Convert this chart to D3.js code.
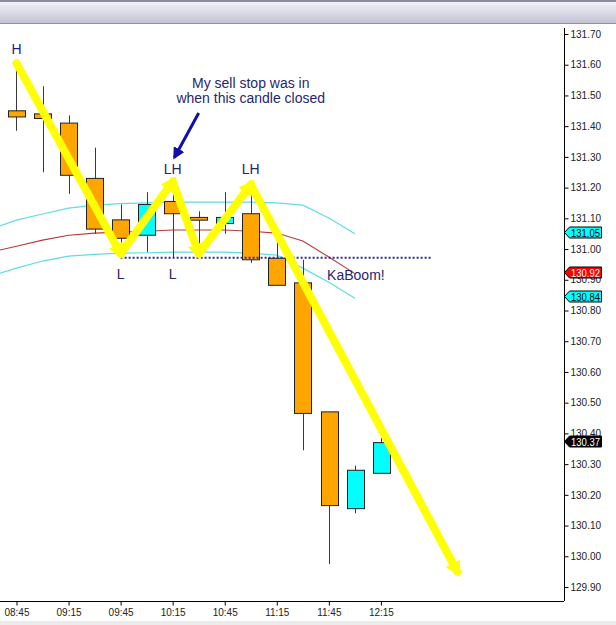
<!DOCTYPE html>
<html>
<head>
<meta charset="utf-8">
<script src="https://cdn.jsdelivr.net/npm/d3@7"></script>
<style>
body { margin: 0; background: #fff; }
svg { display: block; font-family: Arial, "Liberation Sans", sans-serif; }
</style>
</head>
<body>
<svg width="616" height="625"></svg>
<script>
// 15 minute candles
var times  = ["08:45","09:00","09:15","09:30","09:45","10:00","10:15","10:30","10:45","11:00","11:15","11:30","11:45","12:00","12:15"];
var opens  = [131.45, 131.44, 131.41, 131.23, 131.095, 131.045, 131.155, 131.103, 131.083, 131.115, 130.97, 130.89, 130.47, 130.155, 130.27];
var highs  = [131.60, 131.53, 131.435, 131.33, 131.145, 131.185, 131.22, 131.123, 131.185, 131.21, 131.025, 130.965, 130.47, 130.295, 130.385];
var lows   = [131.385, 131.25, 131.18, 131.05, 130.985, 130.99, 130.97, 131.01, 131.05, 130.955, 130.88, 130.345, 129.975, 130.14, 130.27];
var closes = [131.43, 131.425, 131.24, 131.065, 131.035, 131.145, 131.115, 131.094, 131.103, 130.965, 130.882, 130.465, 130.165, 130.28, 130.37];

// bands
var bandTimes = ["08:30","08:45","09:00","09:15","09:30","09:45","10:00","10:15","10:30","10:45","11:00","11:15","11:30","11:45","12:00"];
var upperBand = [131.065, 131.094, 131.114, 131.133, 131.143, 131.148, 131.150, 131.153, 131.153, 131.153, 131.153, 131.150, 131.143, 131.101, 131.05];
var midBand   = [130.990, 131.009, 131.029, 131.045, 131.052, 131.055, 131.058, 131.062, 131.062, 131.062, 131.058, 131.052, 131.026, 130.974, 130.92];
var lowerBand = [130.912, 130.938, 130.961, 130.977, 130.983, 130.987, 130.988, 130.990, 130.990, 130.990, 130.987, 130.980, 130.938, 130.892, 130.84];

// zigzag H - L - LH - L - LH - down
var zigTimes  = ["08:45","09:45","10:15","10:30","11:00","12:59"];
var zigPrices = [131.605, 130.985, 131.22, 130.985, 131.21, 129.95];

var yTicks = [129.9,130.0,130.1,130.2,130.3,130.4,130.5,130.6,130.7,130.8,130.9,131.0,131.1,131.2,131.3,131.4,131.5,131.6,131.7];
var xTicks = ["08:45","09:15","09:45","10:15","10:45","11:15","11:45","12:15"];

var priceTags = [
  {v: 131.05, fill: "#00ffff", text: "#000"},
  {v: 130.92, fill: "#ff0000", text: "#fff"},
  {v: 130.84, fill: "#00ffff", text: "#000"},
  {v: 130.37, fill: "#000000", text: "#fff"}
];

var labels = [
  {t: "08:45", p: 131.636, s: "H"},
  {t: "09:45", p: 130.902, s: "L"},
  {t: "10:15", p: 130.902, s: "L"},
  {t: "10:15", p: 131.244, s: "LH"},
  {t: "11:00", p: 131.244, s: "LH"}
];

var svg = d3.select("svg"),
    width = +svg.attr("width"),
    height = +svg.attr("height");

var parse = d3.timeParse("%H:%M");
var plotRight = 564, plotTop = 24, plotBottom = 601;

var x = d3.scaleTime()
  .domain([d3.timeParse("%H:%M:%S")("08:35:30"), d3.timeParse("%H:%M:%S")("14:00:30")])
  .range([0, plotRight]);
var y = d3.scaleLinear().domain([129.9, 131.7]).range([587, 34]);

var defs = svg.append("defs");
var grad = defs.append("linearGradient").attr("id", "hdr").attr("x1", 0).attr("y1", 0).attr("x2", 0).attr("y2", 1);
grad.append("stop").attr("offset", 0).attr("stop-color", "#f6f6fa");
grad.append("stop").attr("offset", 1).attr("stop-color", "#c3c3d5");
defs.append("clipPath").attr("id", "plot").append("rect")
  .attr("x", 0).attr("y", plotTop).attr("width", plotRight).attr("height", plotBottom - plotTop);

var yel = defs.append("marker").attr("id", "yhead")
  .attr("viewBox", "0 0 10 10").attr("refX", 6).attr("refY", 5)
  .attr("markerUnits", "userSpaceOnUse").attr("markerWidth", 16).attr("markerHeight", 17)
  .attr("orient", "auto");
yel.append("path").attr("d", "M0,0L10,5L0,10z").attr("fill", "#ffff00");

var nav = defs.append("marker").attr("id", "nhead")
  .attr("viewBox", "0 0 10 10").attr("refX", 8).attr("refY", 5)
  .attr("markerUnits", "userSpaceOnUse").attr("markerWidth", 12).attr("markerHeight", 12)
  .attr("orient", "auto");
nav.append("path").attr("d", "M0,0L10,5L0,10z").attr("fill", "#1010a8");

// header bar
svg.append("rect").attr("x", 0).attr("y", 0).attr("width", width).attr("height", 23).attr("fill", "url(#hdr)");
svg.append("line").attr("x1", 0).attr("x2", width).attr("y1", 1).attr("y2", 1).attr("stroke", "#8c8c9c").attr("stroke-width", 2);
svg.append("line").attr("x1", 0).attr("x2", width).attr("y1", 23.5).attr("y2", 23.5).attr("stroke", "#9090a4");
svg.append("rect").attr("x", 0).attr("y", 621).attr("width", width).attr("height", 4).attr("fill", "#ececec");

var g = svg.append("g").attr("clip-path", "url(#plot)");

// bands
var band = d3.line().x(function(d) { return x(parse(d.t)); }).y(function(d) { return y(d.v); });
function bandData(arr) { return bandTimes.map(function(t, i) { return {t: t, v: arr[i]}; }); }
g.append("path").datum(bandData(upperBand)).attr("d", band).attr("fill", "none").attr("stroke", "#5fdce6").attr("stroke-width", 1.2);
g.append("path").datum(bandData(lowerBand)).attr("d", band).attr("fill", "none").attr("stroke", "#5fdce6").attr("stroke-width", 1.2);
g.append("path").datum(bandData(midBand)).attr("d", band).attr("fill", "none").attr("stroke", "#b83a3a").attr("stroke-width", 1.1);

// candles
var candles = times.map(function(t, i) {
  return {t: parse(t), o: opens[i], h: highs[i], l: lows[i], c: closes[i]};
});
var bw = (x(parse("09:00")) - x(parse("08:45"))) * 0.64;

var cg = g.selectAll(".candle").data(candles).enter().append("g").attr("class", "candle");
cg.append("line")
  .attr("x1", function(d) { return Math.round(x(d.t)) + 0.5; })
  .attr("x2", function(d) { return Math.round(x(d.t)) + 0.5; })
  .attr("y1", function(d) { return y(d.h); })
  .attr("y2", function(d) { return y(d.l); })
  .attr("stroke", "#3a3a3a");
cg.append("rect")
  .attr("x", function(d) { return Math.round(x(d.t) - bw / 2) + 0.5; })
  .attr("y", function(d) { return y(Math.max(d.o, d.c)); })
  .attr("width", Math.round(bw))
  .attr("height", function(d) { return Math.max(2, Math.abs(y(d.o) - y(d.c))); })
  .attr("fill", function(d) { return d.c >= d.o ? "#00ffff" : "#ffa500"; })
  .attr("stroke", "#222");

// sell stop dotted line
g.append("line")
  .attr("x1", x(parse("09:45"))).attr("x2", x(parse("12:44")))
  .attr("y1", y(130.972)).attr("y2", y(130.972))
  .attr("stroke", "#2b2ba0").attr("stroke-width", 2).attr("stroke-dasharray", "2,2");

// yellow zigzag arrows
var zig = zigTimes.map(function(t, i) { return {x: x(parse(t)), y: y(zigPrices[i])}; });
for (var i = 0; i < zig.length - 1; i++) {
  svg.append("line")
    .attr("x1", zig[i].x).attr("y1", zig[i].y)
    .attr("x2", zig[i + 1].x).attr("y2", zig[i + 1].y)
    .attr("stroke", "#ffff00").attr("stroke-width", 8)
    .attr("stroke-linecap", "round")
    .attr("marker-end", "url(#yhead)");
}

// text labels
var navy = "#26266e";
svg.selectAll(".pl").data(labels).enter().append("text")
  .attr("x", function(d) { return x(parse(d.t)); })
  .attr("y", function(d) { return y(d.p); })
  .attr("text-anchor", "middle")
  .style("font-size", "14px").style("fill", navy)
  .text(function(d) { return d.s; });

svg.append("text").attr("x", x(parse("11:00"))).attr("y", y(131.524)).attr("text-anchor", "middle")
  .style("font-size", "14px").style("fill", navy).text("My sell stop was in");
svg.append("text").attr("x", x(parse("11:00"))).attr("y", y(131.475)).attr("text-anchor", "middle")
  .style("font-size", "14px").style("fill", navy).text("when this candle closed");
svg.append("text").attr("x", x(parse("11:44"))).attr("y", y(130.899))
  .style("font-size", "14px").style("fill", navy).text("KaBoom!");

svg.append("line")
  .attr("x1", x(parse("10:30"))).attr("y1", y(131.443))
  .attr("x2", x(parse("10:16"))).attr("y2", y(131.298))
  .attr("stroke", "#1010a8").attr("stroke-width", 3)
  .attr("marker-end", "url(#nhead)");

// right price axis
svg.append("g")
  .attr("transform", "translate(" + (plotRight + 0.5) + ",0)")
  .call(d3.axisRight(y).tickValues(yTicks).tickFormat(d3.format(".2f")).tickSize(4).tickPadding(2))
  .call(function(a) {
    a.select(".domain").attr("d", "M0," + (plotTop + 4) + "V" + plotBottom).attr("stroke", "#000");
    a.selectAll("text").style("font-size", "10px").style("fill", "#222").style("font-family", "Arial, 'Liberation Sans', sans-serif");
  });

// bottom time axis
svg.append("g")
  .attr("transform", "translate(0," + (plotBottom + 0.5) + ")")
  .call(d3.axisBottom(x).tickValues(xTicks.map(parse)).tickFormat(d3.timeFormat("%H:%M")).tickSize(4).tickPadding(3))
  .call(function(a) {
    a.select(".domain").attr("d", "M0,0H" + plotRight).attr("stroke", "#000");
    a.selectAll("text").style("font-size", "10px").style("fill", "#222").style("font-family", "Arial, 'Liberation Sans', sans-serif");
  });

// price tags on the axis
var tag = svg.selectAll(".tag").data(priceTags).enter().append("g").attr("class", "tag")
  .attr("transform", function(d) { return "translate(" + plotRight + "," + (Math.round(y(d.v)) - 1.5) + ")"; });
tag.append("path")
  .attr("d", "M0.5,0L5.5,-5.5H37.5V5.5H5.5Z")
  .attr("fill", function(d) { return d.fill; })
  .attr("stroke", "#000");
tag.append("text")
  .attr("x", 7).attr("y", 4)
  .attr("textLength", 29).attr("lengthAdjust", "spacingAndGlyphs")
  .style("font-size", "10px")
  .style("fill", function(d) { return d.text; })
  .text(function(d) { return d3.format(".2f")(d.v); });
</script>
</body>
</html>
